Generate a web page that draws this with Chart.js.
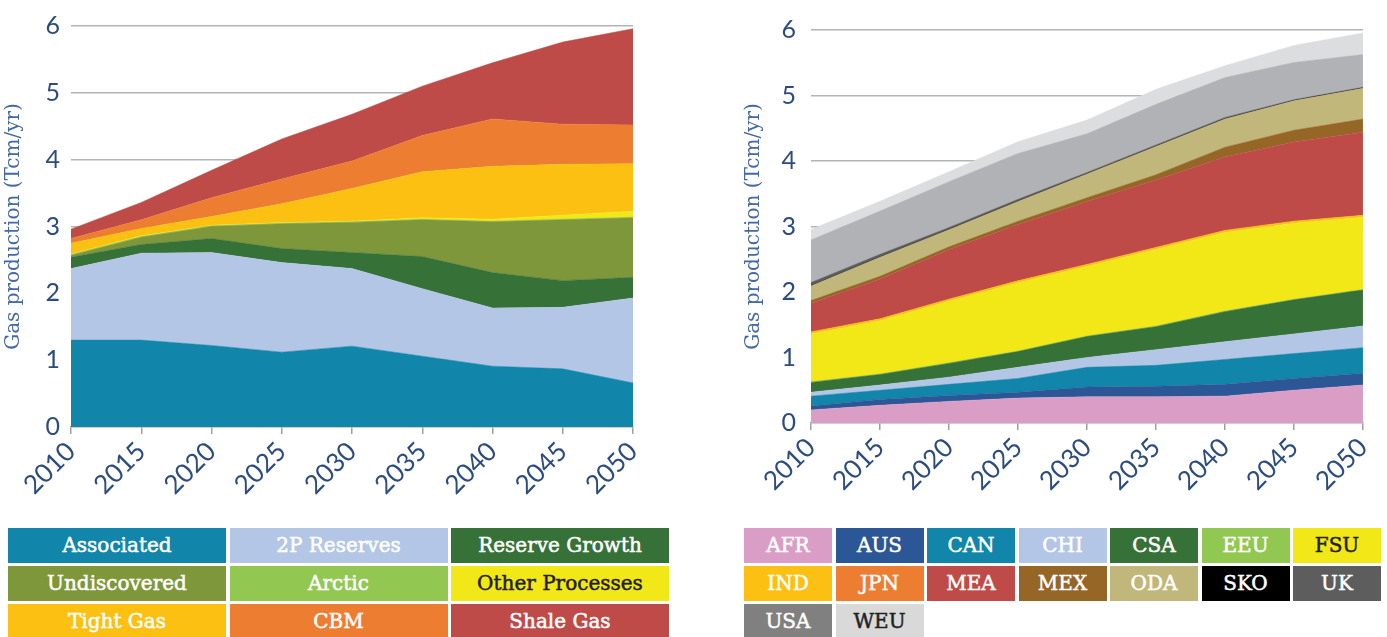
<!DOCTYPE html>
<html>
<head>
<meta charset="utf-8">
<script src="https://cdn.jsdelivr.net/npm/chart.js@4.4.1/dist/chart.umd.min.js"></script>
<style>
  body { margin: 0; background: #fff; width: 1387px; height: 637px; overflow: hidden; position: relative; }
  .box { position: absolute; }
  .cell { position: absolute; height: 35px; line-height: 35px; text-align: center; color: #fff;
          font-family: "DejaVu Serif", serif; font-size: 20px; -webkit-text-stroke: 0.5px currentColor; }
</style>
</head>
<body>
<div class="box" style="left:0;top:0;width:660px;height:520px"><canvas id="supplyChart"></canvas></div>
<div class="box" style="left:740px;top:0;width:647px;height:520px"><canvas id="regionChart"></canvas></div>
<div id="legendLeft"></div>
<div id="legendRight"></div>
<script>
const years = ['2010', '2015', '2020', '2025', '2030', '2035', '2040', '2045', '2050'];
const yTicks = [0, 1, 2, 3, 4, 5, 6];

// left chart: production by supply type (Tcm/yr)
const associated     = [1.30, 1.30, 1.22, 1.12, 1.21, 1.06, 0.91, 0.87, 0.66];
const reserves2P     = [1.07, 1.30, 1.39, 1.34, 1.16, 1.01, 0.87, 0.92, 1.27];
const reserveGrowth  = [0.17, 0.13, 0.21, 0.21, 0.24, 0.48, 0.53, 0.40, 0.31];
const undiscovered   = [0.03, 0.11, 0.18, 0.37, 0.45, 0.55, 0.76, 0.91, 0.89];
const arctic         = [0.01, 0.01, 0.01, 0.01, 0.01, 0.01, 0.01, 0.01, 0.01];
const otherProcesses = [0.01, 0.01, 0.01, 0.01, 0.01, 0.02, 0.03, 0.06, 0.09];
const tightGas       = [0.16, 0.11, 0.13, 0.28, 0.49, 0.69, 0.79, 0.76, 0.71];
const cbm            = [0.07, 0.13, 0.28, 0.37, 0.41, 0.54, 0.71, 0.60, 0.58];
const shaleGas       = [0.14, 0.26, 0.41, 0.60, 0.70, 0.74, 0.84, 1.23, 1.44];

// right chart: production by region (Tcm/yr)
const afr = [0.20, 0.27, 0.33, 0.38, 0.40, 0.40, 0.41, 0.50, 0.58];
const aus = [0.06, 0.09, 0.09, 0.09, 0.15, 0.16, 0.18, 0.18, 0.18];
const can = [0.15, 0.14, 0.17, 0.21, 0.30, 0.32, 0.38, 0.38, 0.39];
const chi = [0.06, 0.08, 0.11, 0.17, 0.15, 0.24, 0.27, 0.30, 0.33];
const csa = [0.15, 0.16, 0.21, 0.24, 0.32, 0.35, 0.46, 0.52, 0.55];
const eeu = [0.01, 0.01, 0.01, 0.01, 0.01, 0.01, 0.01, 0.01, 0.01];
const fsu = [0.73, 0.81, 0.94, 1.04, 1.06, 1.17, 1.20, 1.16, 1.10];
const ind = [0.03, 0.03, 0.03, 0.03, 0.03, 0.03, 0.03, 0.03, 0.03];
const jpn = [0.00, 0.00, 0.00, 0.00, 0.00, 0.00, 0.00, 0.00, 0.00];
const mea = [0.44, 0.61, 0.76, 0.86, 0.96, 1.03, 1.12, 1.21, 1.27];
const mex = [0.04, 0.04, 0.04, 0.05, 0.06, 0.08, 0.15, 0.18, 0.20];
const oda = [0.22, 0.29, 0.26, 0.30, 0.36, 0.43, 0.43, 0.45, 0.47];
const sko = [0.005, 0.005, 0.005, 0.005, 0.005, 0.005, 0.005, 0.005, 0.005];
const uk  = [0.05, 0.04, 0.03, 0.03, 0.02, 0.02, 0.02, 0.01, 0.01];
const usa = [0.65, 0.66, 0.70, 0.70, 0.59, 0.62, 0.61, 0.57, 0.50];
const weu = [0.16, 0.15, 0.15, 0.18, 0.21, 0.23, 0.18, 0.26, 0.33];

const supplySeries = [
  { name: 'Associated', data: associated, color: '#1186aa', text: '#fff' },
  { name: '2P Reserves', data: reserves2P, color: '#b3c6e5', text: '#fff' },
  { name: 'Reserve Growth', data: reserveGrowth, color: '#367137', text: '#fff' },
  { name: 'Undiscovered', data: undiscovered, color: '#7f973b', text: '#fff' },
  { name: 'Arctic', data: arctic, color: '#92c852', text: '#fff' },
  { name: 'Other Processes', data: otherProcesses, color: '#f2e817', text: '#231f20' },
  { name: 'Tight Gas', data: tightGas, color: '#fbc012', text: '#fff' },
  { name: 'CBM', data: cbm, color: '#ed7d31', text: '#fff' },
  { name: 'Shale Gas', data: shaleGas, color: '#be4b48', text: '#fff' }
];

const regionSeries = [
  { name: 'AFR', data: afr, color: '#da9ec6', text: '#fff' },
  { name: 'AUS', data: aus, color: '#2b5797', text: '#fff' },
  { name: 'CAN', data: can, color: '#1186aa', text: '#fff' },
  { name: 'CHI', data: chi, color: '#b3c6e5', text: '#fff' },
  { name: 'CSA', data: csa, color: '#367137', text: '#fff' },
  { name: 'EEU', data: eeu, color: '#92c852', text: '#fff' },
  { name: 'FSU', data: fsu, color: '#f2e817', text: '#231f20' },
  { name: 'IND', data: ind, color: '#fbc012', text: '#fff' },
  { name: 'JPN', data: jpn, color: '#ed7d31', text: '#fff' },
  { name: 'MEA', data: mea, color: '#be4b48', text: '#fff' },
  { name: 'MEX', data: mex, color: '#956626', text: '#fff' },
  { name: 'ODA', data: oda, color: '#c1b77b', text: '#fff' },
  { name: 'SKO', data: sko, color: '#000000', text: '#fff' },
  { name: 'UK', data: uk, color: '#5d5d5d', text: '#fff' },
  { name: 'USA', data: usa, color: '#b1b2b5', legend: '#808080', text: '#fff' },
  { name: 'WEU', data: weu, color: '#dcdddf', legend: '#d9d9d9', text: '#231f20' }
];

const tickColor = '#2c4c80';

function makeChart(id, series, axisWidth, axisHeight, tickPad, pad) {
  const ctx = document.getElementById(id).getContext('2d');
  return new Chart(ctx, {
    type: 'line',
    data: {
      labels: years,
      datasets: series.map((s, i) => ({
        label: s.name,
        data: s.data,
        backgroundColor: s.color,
        borderColor: s.color,
        borderWidth: 0.5,
        pointRadius: 0,
        tension: 0,
        fill: i === 0 ? 'origin' : '-1'
      }))
    },
    options: {
      responsive: true,
      maintainAspectRatio: false,
      animation: false,
      layout: { padding: pad },
      plugins: { legend: { display: false }, tooltip: { enabled: false } },
      scales: {
        x: {
          grid: { drawOnChartArea: false, drawTicks: true, tickLength: 7, color: '#a0a0a0', lineWidth: 1.5 },
          border: { color: '#a0a0a0', width: 1.5 },
          ticks: { color: tickColor, font: { family: 'Lato', size: 26 }, minRotation: 45, maxRotation: 45, padding: 2 },
          afterFit: (scale) => { scale.height = axisHeight; }
        },
        y: {
          stacked: true,
          min: 0,
          max: 6,
          afterBuildTicks: (scale) => { scale.ticks = yTicks.map(v => ({ value: v })); },
          grid: { color: (c) => c.tick.value === 0 ? 'rgba(0,0,0,0)' : '#b4b4b4', lineWidth: 1.5, drawTicks: false },
          border: { display: false },
          ticks: { color: tickColor, font: { family: 'Lato', size: 25 }, padding: tickPad },
          title: {
            display: true,
            text: 'Gas production (Tcm/yr)',
            color: '#4468a0',
            font: { family: 'DejaVu Serif', size: 20 },
            padding: { top: 2, bottom: 0 }
          },
          afterFit: (scale) => { scale.width = axisWidth; }
        }
      }
    }
  });
}

makeChart('supplyChart', supplySeries, 71, 520 - 427, 11, { top: 25, right: 27, bottom: 0, left: 0 });
makeChart('regionChart', regionSeries, 71, 520 - 423, 15, { top: 27, right: 15, bottom: 0, left: 0 });

// legend tables drawn as coloured cells
function buildLegend(el, series, left, colWidth, perRow) {
  const container = document.getElementById(el);
  series.forEach((s, i) => {
    const cell = document.createElement('div');
    cell.className = 'cell';
    const row = Math.floor(i / perRow);
    const col = i % perRow;
    cell.style.left = (left + col * (colWidth + 3.5)) + 'px';
    cell.style.top = (528 + row * 38) + 'px';
    cell.style.width = colWidth + 'px';
    cell.style.background = s.legend || s.color;
    cell.style.color = s.text;
    cell.textContent = s.name;
    container.appendChild(cell);
  });
}

buildLegend('legendLeft', supplySeries, 8, 218, 3);
buildLegend('legendRight', regionSeries, 744, 88, 7);
</script>
</body>
</html>
